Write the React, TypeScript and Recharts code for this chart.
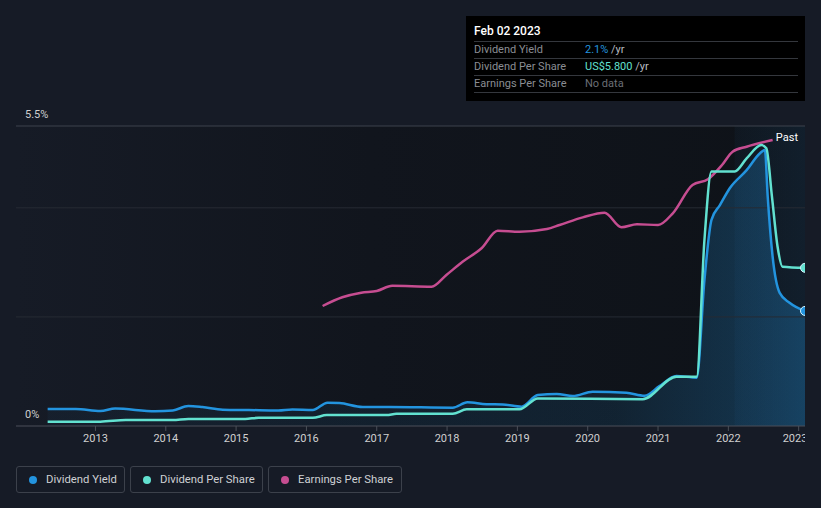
import React from "react";
import {
  ComposedChart,
  Line,
  Area,
  XAxis,
  YAxis,
  ReferenceLine,
  ReferenceArea,
} from "recharts";

const yieldYears = [
  2012.32, 2012.72, 2013.07, 2013.28, 2013.85, 2014.1, 2014.32, 2014.52, 2014.81, 2015.18,
  2015.6, 2015.8, 2016.09, 2016.3, 2016.47, 2016.8, 2017.18, 2018.08, 2018.29, 2018.56,
  2018.79, 2019.06, 2019.29, 2019.56, 2019.79, 2020.07, 2020.55, 2020.81, 2021.02, 2021.26,
  2021.55, 2021.66, 2021.76, 2021.88, 2022.02, 2022.26, 2022.45, 2022.52, 2022.56, 2022.63,
  2022.73, 2022.87, 2023.09,
];
const yieldValues = [
  0.31, 0.31, 0.275, 0.32, 0.27, 0.285, 0.367, 0.348, 0.3, 0.293,
  0.284, 0.302, 0.293, 0.427, 0.42, 0.348, 0.348, 0.336, 0.434, 0.4,
  0.396, 0.354, 0.568, 0.587, 0.55, 0.63, 0.61, 0.556, 0.73, 0.917,
  0.886, 2.68, 3.78, 4.05, 4.36, 4.69, 5.0, 5.06, 4.2, 3.1,
  2.44, 2.26, 2.11,
];

const dpsYears = [
  2012.32, 2013.07, 2013.43, 2014.1, 2014.32, 2015.13, 2015.32, 2016.09, 2016.29, 2017.14,
  2017.28, 2018.08, 2018.28, 2019.03, 2019.29, 2020.78, 2021.26, 2021.55, 2021.66, 2021.76,
  2022.09, 2022.26, 2022.47, 2022.54, 2022.62, 2022.7, 2022.77, 2023.09,
];
const dpsValues = [
  0.16, 0.16, 0.22, 0.22, 0.26, 0.26, 0.3, 0.3, 0.4, 0.4,
  0.45, 0.45, 0.61, 0.61, 1.01, 0.98, 1.81, 1.81, 6.82, 9.33,
  9.33, 9.81, 10.3, 10.18, 8.41, 6.57, 5.84, 5.8,
];

const epsYears = [
  2016.23, 2016.51, 2016.78, 2017.0, 2017.22, 2017.78, 2017.99, 2018.22, 2018.49, 2018.72,
  2019.03, 2019.42, 2019.6, 2019.93, 2020.24, 2020.48, 2020.7, 2021.0, 2021.21, 2021.49,
  2021.71, 2021.91, 2022.06, 2022.26, 2022.63,
];
const epsValues = [
  8.0, 8.58, 8.89, 9.0, 9.35, 9.29, 10.07, 10.95, 11.85, 13.02,
  12.95, 13.13, 13.4, 13.91, 14.22, 13.25, 13.45, 13.4, 14.18, 16.07,
  16.45, 17.4, 18.29, 18.62, 19.07,
];

const yearTicks = [2013, 2014, 2015, 2016, 2017, 2018, 2019, 2020, 2021, 2022, 2023];
const gridValues = [2, 4];

const BLUE = "#2394df";
const TEAL = "#62e1d0";
const PINK = "#c64d91";
const BG = "#161b26";

const yieldData = yieldYears.map((x, i) => ({ x, v: yieldValues[i] }));
const dpsData = dpsYears.map((x, i) => ({ x, v: dpsValues[i] }));
const epsData = epsYears.map((x, i) => ({ x, v: epsValues[i] }));

const endDot = (color: string, last: number) => (props: any) => {
  const { cx, cy, index } = props;
  if (index !== last) return <g key={"d" + index} />;
  return (
    <circle key={"d" + index} cx={cx} cy={cy} r={4.5} fill={color} stroke="#d8f6ff" strokeWidth={1} />
  );
};

// y-axis labels sit inside the plot, just above their line
const axisLabel = (text: string) => (props: any) => {
  const vb = props.viewBox || {};
  return (
    <text x={25} y={(vb.y ?? 0) - 8} fill="#d0d0d0" fontSize={11} textAnchor="start">
      {text}
    </text>
  );
};

const legendItems = [
  { name: "Dividend Yield", color: BLUE, left: 16, width: 109 },
  { name: "Dividend Per Share", color: TEAL, left: 130, width: 133 },
  { name: "Earnings Per Share", color: PINK, left: 268, width: 134 },
];

const tooltipRows = [
  { label: "Dividend Yield", value: "2.1%", color: BLUE, unit: " /yr" },
  { label: "Dividend Per Share", value: "US$5.800", color: TEAL, unit: " /yr" },
  { label: "Earnings Per Share", value: "No data", color: "#6b6f76", unit: "" },
];

export default function App() {
  return (
    <div
      style={{
        position: "absolute",
        left: 0,
        top: 0,
        width: 821,
        height: 508,
        background: BG,
        fontFamily: "Roboto, sans-serif",
        overflow: "hidden",
      }}
    >
      <div
        style={{
          position: "absolute",
          left: 16,
          top: 126,
          width: 789,
          height: 300,
          background: "linear-gradient(90deg, #161b26 0%, #11151d 45%, #0e1218 100%)",
        }}
      />
      <div style={{ position: "absolute", left: 0, top: 0, width: 805, height: 508, overflow: "hidden" }}>
        <ComposedChart width={806} height={508} margin={{ top: 126, right: 1, bottom: 52, left: 16 }}>
          <defs>
            <linearGradient id="yieldFill" x1="0" y1="0" x2="1" y2="0">
              <stop offset="0%" stopColor={BLUE} stopOpacity={0.04} />
              <stop offset="75%" stopColor={BLUE} stopOpacity={0.12} />
              <stop offset="100%" stopColor={BLUE} stopOpacity={0.3} />
            </linearGradient>
            <linearGradient id="pastFill" x1="0" y1="0" x2="1" y2="0">
              <stop offset="0%" stopColor="#2a78b8" stopOpacity={0.1} />
              <stop offset="100%" stopColor="#2a78b8" stopOpacity={0.25} />
            </linearGradient>
          </defs>
          <XAxis
            type="number"
            dataKey="x"
            domain={[2011.87, 2023.09]}
            ticks={yearTicks}
            allowDataOverflow
            stroke="#4a4f58"
            tick={{ fill: "#d0d0d0", fontSize: 11 }}
            tickSize={5}
            tickMargin={3}
            height={30}
          />
          <YAxis yAxisId="yield" domain={[0, 5.5]} hide allowDataOverflow />
          <YAxis yAxisId="dps" domain={[0, 11]} hide allowDataOverflow />
          <YAxis yAxisId="eps" domain={[0, 20]} hide allowDataOverflow />
          <ReferenceArea
            yAxisId="yield"
            x1={2022.09}
            x2={2023.09}
            y1={0}
            y2={5.5}
            fill="url(#pastFill)"
            stroke="none"
            label={{ value: "Past", position: "insideTopRight", fill: "#ffffff", fontSize: 11, offset: 7 }}
          />
          <ReferenceLine yAxisId="yield" y={5.5} stroke="#3d424c" label={axisLabel("5.5%")} />
          <ReferenceLine yAxisId="yield" y={0} stroke="none" label={axisLabel("0%")} />
          {gridValues.map((g) => (
            <ReferenceLine key={g} yAxisId="yield" y={g} stroke="#262b34" />
          ))}
          <Area
            yAxisId="yield"
            data={yieldData}
            dataKey="v"
            type="monotone"
            stroke="none"
            fill="url(#yieldFill)"
            fillOpacity={1}
            isAnimationActive={false}
          />
          <Line
            yAxisId="eps"
            data={epsData}
            dataKey="v"
            type="monotone"
            stroke={PINK}
            strokeWidth={2.5}
            dot={false}
            isAnimationActive={false}
          />
          <Line
            yAxisId="yield"
            data={yieldData}
            dataKey="v"
            type="monotone"
            stroke={BLUE}
            strokeWidth={2.5}
            dot={endDot(BLUE, yieldData.length - 1)}
            isAnimationActive={false}
          />
          <Line
            yAxisId="dps"
            data={dpsData}
            dataKey="v"
            type="monotone"
            stroke={TEAL}
            strokeWidth={2.5}
            dot={endDot(TEAL, dpsData.length - 1)}
            isAnimationActive={false}
          />
        </ComposedChart>
      </div>

      <div
        style={{
          position: "absolute",
          left: 466,
          top: 16,
          width: 339,
          height: 85,
          background: "#000000",
          boxSizing: "border-box",
          padding: "0 7px 0 8px",
        }}
      >
        <div style={{ color: "#ffffff", fontSize: 12, fontWeight: 500, height: 25, lineHeight: "30px" }}>
          Feb 02 2023
        </div>
        {tooltipRows.map((r) => (
          <div
            key={r.label}
            style={{
              display: "flex",
              boxSizing: "border-box",
              borderTop: "1px solid #34373d",
              borderBottom: r.label === "Earnings Per Share" ? "1px solid #34373d" : "none",
              height: r.label === "Earnings Per Share" ? 18 : 17,
              lineHeight: "16px",
              fontSize: 11,
              whiteSpace: "pre",
            }}
          >
            <span style={{ width: 111, color: "#8a8d93" }}>{r.label}</span>
            <span style={{ color: r.color }}>{r.value}</span>
            <span style={{ color: "#b8bbc0" }}>{r.unit}</span>
          </div>
        ))}
      </div>

      {legendItems.map((l) => (
        <div
          key={l.name}
          style={{
            position: "absolute",
            left: l.left,
            top: 466,
            width: l.width,
            height: 27,
            boxSizing: "border-box",
            border: "1px solid #3c414b",
            borderRadius: 3,
            display: "flex",
            alignItems: "center",
            paddingLeft: 12,
            fontSize: 11.3,
            color: "#cfd1d4",
          }}
        >
          <span
            style={{
              display: "inline-block",
              width: 8,
              height: 8,
              borderRadius: 4,
              background: l.color,
              marginRight: 9,
            }}
          />
          {l.name}
        </div>
      ))}
    </div>
  );
}
